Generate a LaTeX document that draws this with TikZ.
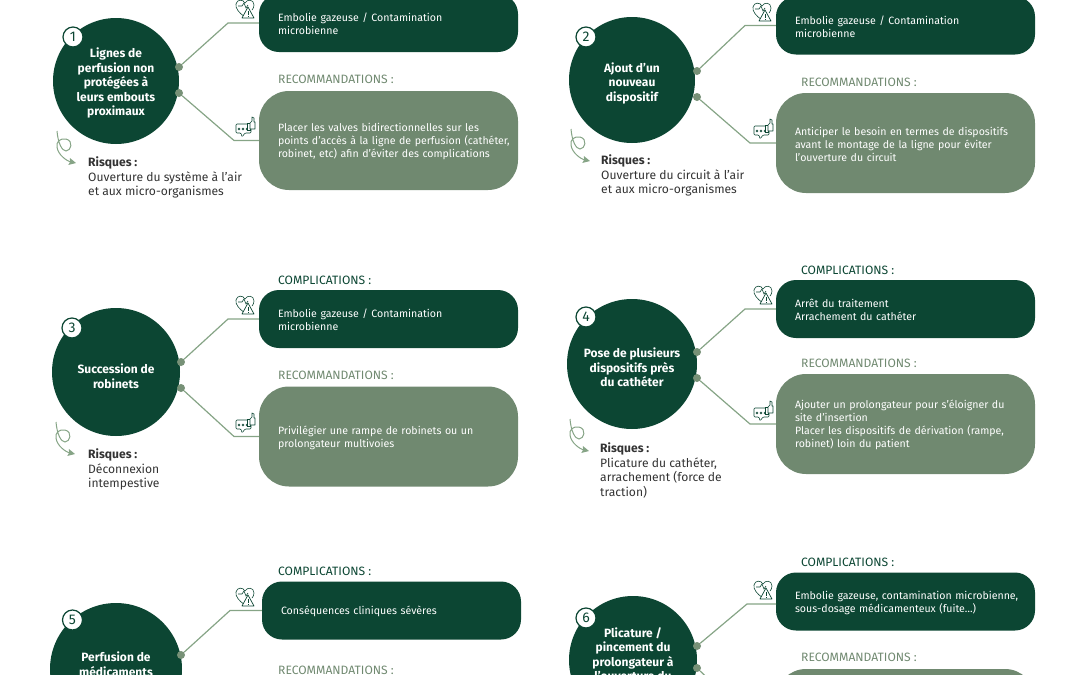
\documentclass[tikz,border=0pt]{standalone}
\usepackage{fontspec}
\usetikzlibrary{arrows.meta}
\setmainfont{Fira Sans}
\definecolor{darkgreen}{HTML}{0C4633}
\definecolor{sagegreen}{HTML}{708970}
\definecolor{linegreen}{HTML}{86A486}
\definecolor{bodygrey}{HTML}{333333}
\tikzset{
  bubble/.style={circle,fill=darkgreen,inner sep=0pt},
  numdisc/.style={circle,draw=darkgreen,line width=1.2pt,fill=white,text=darkgreen,minimum size=20pt,inner sep=0pt,font=\fontsize{14}{14}\selectfont},
  title/.style={text=white,align=center,inner sep=0pt,font=\fontsize{12}{14.5}\selectfont\bfseries},
  boxtext/.style={minimum width=259pt,text width=250pt,inner xsep=4.5pt,inner ysep=0pt,align=left,text=white,font=\fontsize{10.6}{13}\selectfont,execute at begin node={\leftskip=14.5pt\leavevmode\rule{0pt}{11pt}}},
  compbox/.style={boxtext,fill=darkgreen,rounded corners=20pt,minimum height=58pt},
  recobox/.style={boxtext,fill=sagegreen,rounded corners=30pt,minimum height=100pt},
  complabel/.style={anchor=west,inner sep=0pt,text=darkgreen,font=\fontsize{12.1}{13}\selectfont},
  recolabel/.style={anchor=west,inner sep=0pt,text=sagegreen,font=\fontsize{12.1}{13}\selectfont},
  risk/.style={anchor=north west,inner sep=0pt,align=left,text=bodygrey,font=\fontsize{12.1}{14.5}\selectfont},
  link/.style={draw=linegreen,line width=1.2pt},
  dot/.style={circle,fill=sagegreen!70!linegreen,minimum size=8pt,inner sep=0pt},
  warnicon/.pic={
    % heart with a warning triangle
    \draw[darkgreen,line width=.6pt,line join=round] (0,9) .. controls (-6,5) and (-10,0) .. (-9,-4) .. controls (-8,-9) and (-2,-9) .. (0,-5) .. controls (2,-9) and (9,-9) .. (9,-3) .. controls (9,-1) and (8,1) .. (7,2);
    \draw[darkgreen,line width=.6pt] (-7,-2) -- (-3,-2) -- (-1,-5) -- (1,0) -- (3,-3);
    \draw[darkgreen,line width=.7pt,fill=white,line join=round] (3,-1) -- (9,10) -- (-3,10) -- cycle;
    \draw[darkgreen,line width=.9pt] (3,3) -- (3,7) (3,8) -- (3,9);
  },
  thumbicon/.pic={
    % speech bubble with a thumb up
    \draw[darkgreen,line width=.6pt,rounded corners=1pt,line join=round] (-9,-4) -- (4,-4) -- (6,-4) -- (6,5) -- (0,5) -- (-3,9) -- (-4,5) -- (-9,5) -- cycle;
    \foreach \x in {-6,-2,2} \draw[darkgreen,line width=.5pt] (\x,1) circle (1pt);
    \draw[darkgreen,line width=.6pt,fill=white] (2,-5) rectangle (5,2);
    \draw[darkgreen,line width=.6pt,fill=white,line join=round] (5,-5) -- (7,-7) -- (7,-11) -- (9,-10) -- (9,-6) -- (10,-6) -- (10,1) -- (5,1) -- cycle;
  },
  swirl/.pic={
    % looped arrow starting at the origin
    \draw[linegreen,line width=1pt,-{Stealth[length=7pt,width=7pt,inset=1pt]}] (0,0) .. controls (1,12) and (5,20) .. (9,20) .. controls (14,20) and (17,10) .. (9,8) .. controls (3,7) and (-1,11) .. (0,16) .. controls (1,24) and (10,30) .. (19,32);
  }
}
\begin{document}
\begin{tikzpicture}[x=1pt,y=-1pt]
    % Fix the page and cut what runs over its edges
    \useasboundingbox (0,0) rectangle (1080,675);
    \clip (0,0) rectangle (1080,675);

    % 1. Top left
    \node[bubble,minimum size=126pt] (c1) at (116,81) {};
    \node[title] (t1) at (116,83) {Lignes de\\perfusion non\\protégées à\\leurs embouts\\proximaux};
    \node[numdisc] (n1) at (73,37) {1};
    \coordinate (b1a) at (228,23);
    \coordinate (b1b) at (234,140.5);
    \node[dot] (d1a) at (179,67) {};
    \node[dot] (d1b) at (179,93) {};
    \node[compbox] (comp1) at (388.5,23) {Embolie gazeuse / Contamination\\microbienne};
    \node[recobox,minimum height=99pt] (reco1) at (388.5,140.5) {Placer les valves bidirectionnelles sur les\\points d’accès à la ligne de perfusion (cathéter,\\robinet, etc) afin d’éviter des complications};
    \draw[link] (d1a) -- (b1a) -- (comp1.west);
    \draw[link] (d1b) -- (b1b) -- (reco1.west);
    \node[recolabel] (rl1) at (278,79.5) {RECOMMANDATIONS :};
    \pic at (245,8) {warnicon};
    \pic at (245,128) {thumbicon};
    \pic at (57,131) {swirl};
    \node[risk] (r1) at (88,156.5) {\textbf{Risques :}\\Ouverture du système à l’air\\et aux micro-organismes};

    % 2. Top right
    \node[bubble,minimum size=126pt] (c2) at (632,80) {};
    \node[title] (t2) at (632,83) {Ajout d’un\\nouveau\\dispositif};
    \node[numdisc] (n2) at (586,37) {2};
    \coordinate (b2a) at (745,25.5);
    \coordinate (b2b) at (750,143);
    \node[dot] (d2a) at (697,71) {};
    \node[dot] (d2b) at (697,97) {};
    \node[compbox] (comp2) at (905.5,25.5) {Embolie gazeuse / Contamination\\microbienne};
    \node[recobox] (reco2) at (905.5,143) {Anticiper le besoin en termes de dispositifs\\avant le montage de la ligne pour éviter\\l’ouverture du circuit};
    \draw[link] (d2a) -- (b2a) -- (comp2.west);
    \draw[link] (d2b) -- (b2b) -- (reco2.west);
    \node[recolabel] (rl2) at (801,82.5) {RECOMMANDATIONS :};
    \pic at (762,11) {warnicon};
    \pic at (763,130) {thumbicon};
    \pic at (571,129) {swirl};
    \node[risk] (r2) at (601,154.5) {\textbf{Risques :}\\Ouverture du circuit à l’air\\et aux micro-organismes};

    % 3. Middle left
    \node[bubble,minimum size=128pt] (c3) at (116,372) {};
    \node[title] (t3) at (116,376) {Succession de\\robinets};
    \node[numdisc] (n3) at (72,328) {3};
    \coordinate (b3a) at (228,319);
    \coordinate (b3b) at (234,436.5);
    \node[dot] (d3a) at (181,362) {};
    \node[dot] (d3b) at (181,388) {};
    \node[compbox] (comp3) at (388.5,319) {Embolie gazeuse / Contamination\\microbienne};
    \node[recobox] (reco3) at (388.5,436.5) {Privilégier une rampe de robinets ou un\\prolongateur multivoies};
    \draw[link] (d3a) -- (b3a) -- (comp3.west);
    \draw[link] (d3b) -- (b3b) -- (reco3.west);
    \node[complabel] (cl3) at (278,280.5) {COMPLICATIONS :};
    \node[recolabel] (rl3) at (278,375.5) {RECOMMANDATIONS :};
    \pic at (245,304) {warnicon};
    \pic at (245,424) {thumbicon};
    \pic at (56,422) {swirl};
    \node[risk] (r3) at (88,448.5) {\textbf{Risques :}\\Déconnexion\\intempestive};

    % 4. Middle right
    \node[bubble,minimum size=130pt] (c4) at (632,364) {};
    \node[title] (t4) at (632,367.5) {Pose de plusieurs\\dispositifs près\\du cathéter};
    \node[numdisc] (n4) at (586,317) {4};
    \coordinate (b4a) at (745,309);
    \coordinate (b4b) at (750,424);
    \node[dot] (d4a) at (697,352) {};
    \node[dot] (d4b) at (697,378) {};
    \node[compbox] (comp4) at (905.5,309) {Arrêt du traitement\\Arrachement du cathéter};
    \node[recobox] (reco4) at (905.5,424) {Ajouter un prolongateur pour s’éloigner du\\site d’insertion\\Placer les dispositifs de dérivation (rampe,\\robinet) loin du patient};
    \draw[link] (d4a) -- (b4a) -- (comp4.west);
    \draw[link] (d4b) -- (b4b) -- (reco4.west);
    \node[complabel] (cl4) at (801,270.5) {COMPLICATIONS :};
    \node[recolabel] (rl4) at (801,363.5) {RECOMMANDATIONS :};
    \pic at (763,294) {warnicon};
    \pic at (763,412) {thumbicon};
    \pic at (570,419) {swirl};
    \node[risk] (r4) at (600,442.5) {\textbf{Risques :}\\Plicature du cathéter,\\arrachement (force de\\traction)};

    % 5. Bottom left, runs off the page
    \node[bubble,minimum size=132pt] (c5) at (116,669) {};
    \node[title] (t5) at (116,664) {Perfusion de\\médicaments};
    \node[numdisc] (n5) at (72.5,620) {5};
    \coordinate (b5a) at (230,610.5);
    \node[dot] (d5a) at (181,655) {};
    \node[compbox] (comp5) at (391.5,610.5) {Conséquences cliniques sévères};
    \draw[link] (d5a) -- (b5a) -- (comp5.west);
    \node[complabel] (cl5) at (278,571.5) {COMPLICATIONS :};
    \node[recolabel] (rl5) at (278,670.5) {RECOMMANDATIONS :};
    \pic at (245,596) {warnicon};

    % 6. Bottom right, runs off the page
    \node[bubble,minimum size=128pt] (c6) at (633,660) {};
    \node[title] (t6) at (633,654) {Plicature /\\pincement du\\prolongateur à\\l’ouverture du};
    \node[numdisc] (n6) at (586,618) {6};
    \coordinate (b6a) at (747,604);
    \coordinate (b6b) at (750,719);
    \coordinate (e6a) at (776,604);
    \node[dot] (d6a) at (697,646) {};
    \node[dot] (d6b) at (697,668) {};
    \node[compbox] (comp6) at (905.5,601.5) {Embolie gazeuse, contamination microbienne,\\sous-dosage médicamenteux (fuite…)};
    \node[recobox] (reco6) at (905.5,719) {};
    \draw[link] (d6a) -- (b6a) -- (e6a);
    \draw[link] (d6b) -- (b6b) -- (reco6.west);
    \node[complabel] (cl6) at (801,562.5) {COMPLICATIONS :};
    \node[recolabel] (rl6) at (801,657.5) {RECOMMANDATIONS :};
    \pic at (763,589) {warnicon};
\end{tikzpicture}
\end{document}
